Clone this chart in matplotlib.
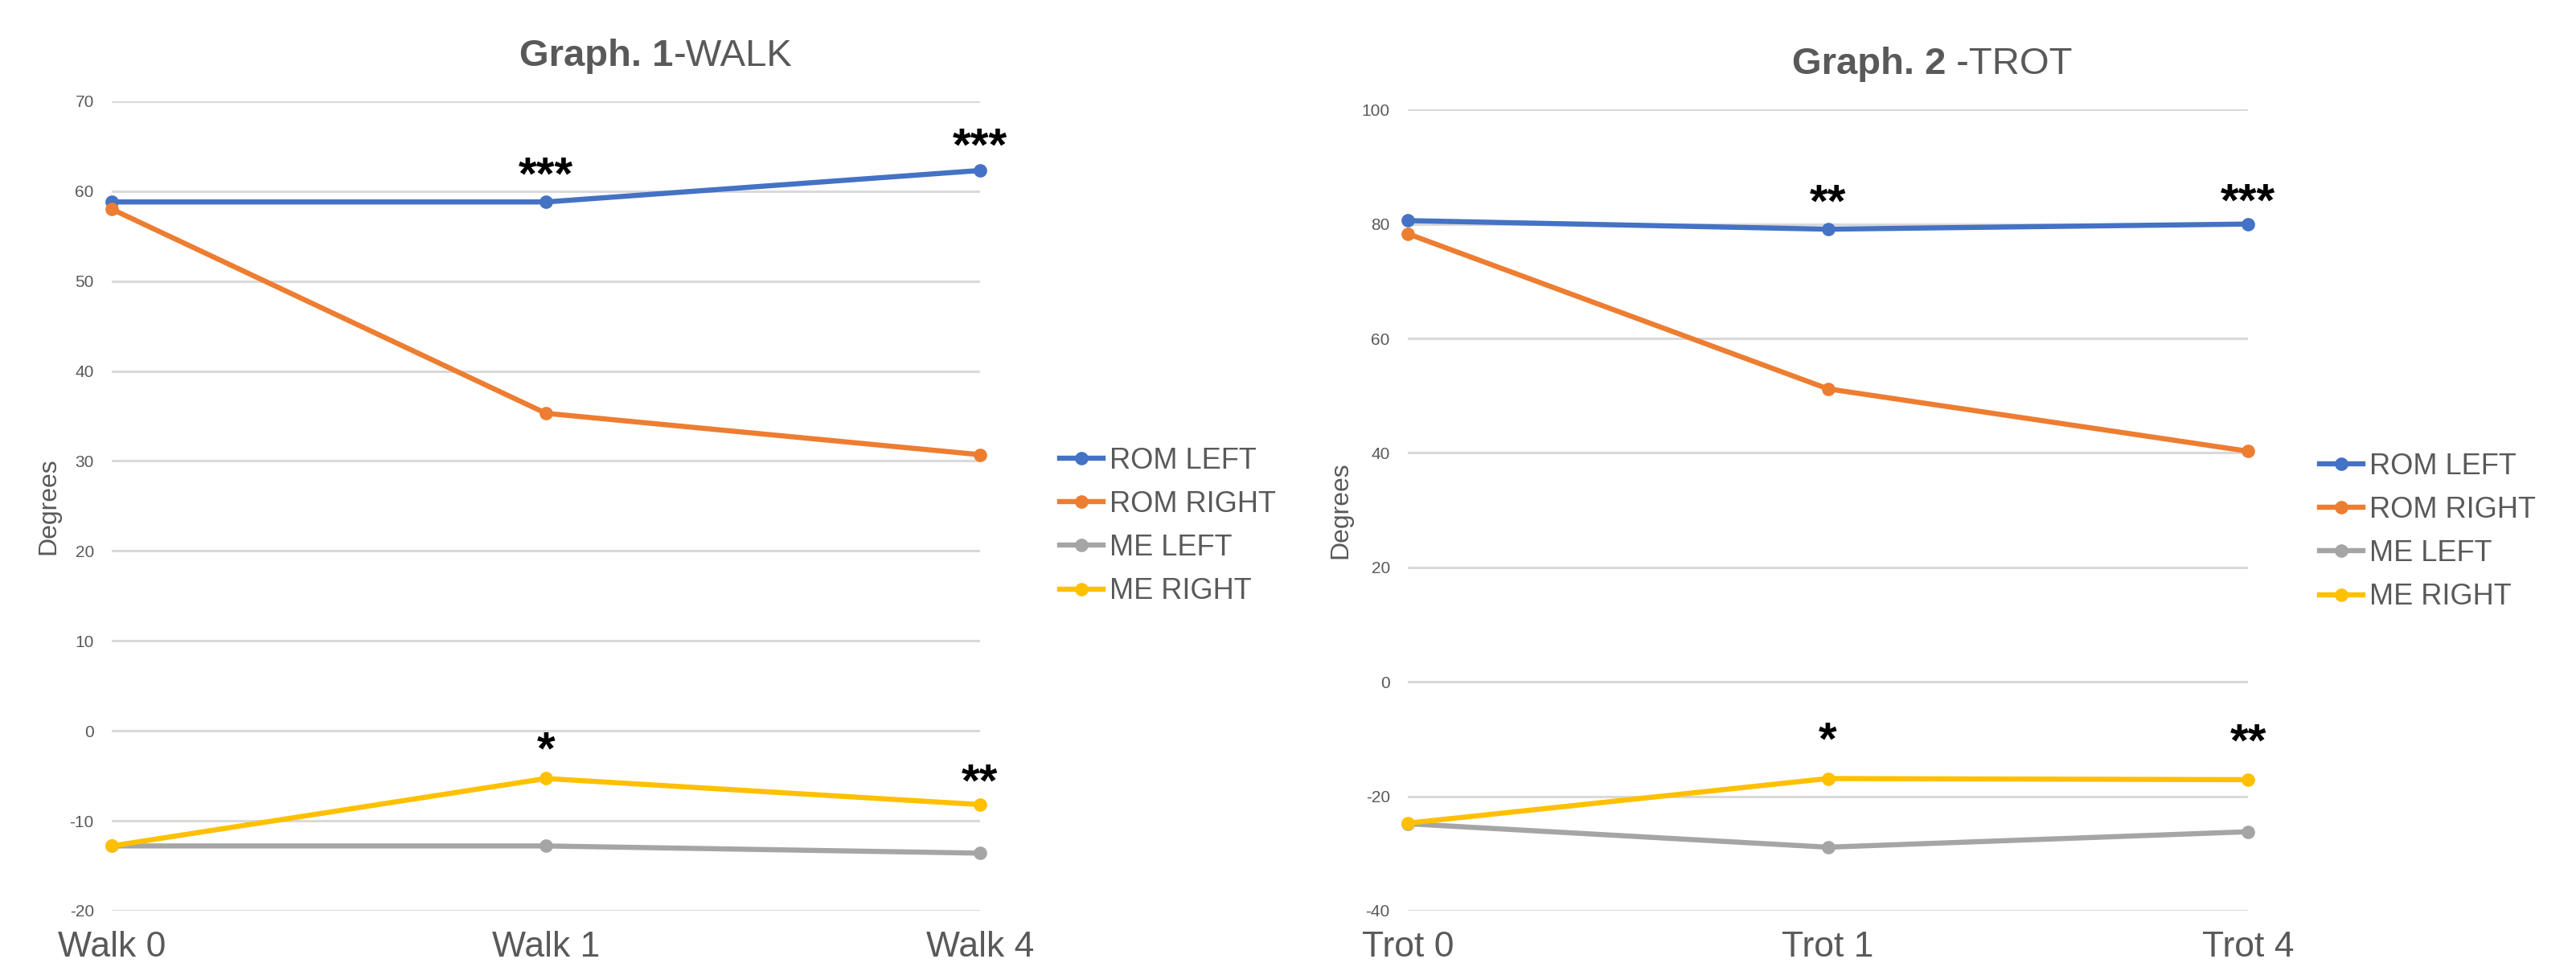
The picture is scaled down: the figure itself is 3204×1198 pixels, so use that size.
import numpy as np
import matplotlib.pyplot as plt

plt.rcParams['font.family'] = ['Liberation Sans', 'DejaVu Sans']
plt.rcParams['axes.unicode_minus'] = False

series = ["ROM LEFT", "ROM RIGHT", "ME LEFT", "ME RIGHT"]
colors = ["#4472C4", "#ED7D31", "#A5A5A5", "#FFC000"]

walk_labels = ["Walk 0", "Walk 1", "Walk 4"]
walk_rom_left = [58.8, 58.8, 62.3]
walk_rom_right = [58.0, 35.3, 30.7]
walk_me_left = [-12.8, -12.8, -13.6]
walk_me_right = [-12.8, -5.3, -8.2]

trot_labels = ["Trot 0", "Trot 1", "Trot 4"]
trot_rom_left = [80.6, 79.1, 80.0]
trot_rom_right = [78.3, 51.2, 40.3]
trot_me_left = [-24.8, -28.9, -26.2]
trot_me_right = [-24.7, -16.9, -17.1]

# significance stars: (series index, point index, text)
walk_marks = [(0, 1, "***"), (0, 2, "***"), (3, 1, "*"), (3, 2, "**")]
trot_marks = [(0, 1, "**"), (0, 2, "***"), (3, 1, "*"), (3, 2, "**")]
walk_mark_dy = [11, 10, 12, 9]
trot_mark_dy = [11, 9, 16, 16]

GREY = "#595959"
GRID = "#D9D9D9"


def panel(ax, labels, values, marks, mark_dy, ylim, ystep):
    x = np.arange(len(labels))
    for vals, name, c in zip(values, series, colors):
        ax.plot(x, vals, color=c, lw=2.3, marker="o", ms=5, label=name,
                clip_on=False, zorder=3)
    for (si, pi, txt), dy in zip(marks, mark_dy):
        ax.annotate(txt, (x[pi], values[si][pi]), xytext=(0, dy),
                    textcoords="offset points", ha="center", va="center",
                    fontsize=21, fontweight="bold", color="black", zorder=4)
    ax.set_xlim(0, len(labels) - 1)
    ax.set_ylim(*ylim)
    ax.set_yticks(np.arange(ylim[0], ylim[1] + 1, ystep))
    ax.set_xticks(x, labels)
    ax.grid(axis="y", color=GRID, lw=1.1)
    ax.set_axisbelow(True)
    for s in ax.spines.values():
        s.set_visible(False)
    ax.tick_params(axis="y", length=0, labelsize=7.5, labelcolor=GREY, pad=8)
    ax.tick_params(axis="x", length=0, labelsize=16, labelcolor=GREY, pad=9)
    ax.set_ylabel("Degrees", fontsize=11.5, color=GREY, labelpad=4)


fig = plt.figure(figsize=(16.02, 5.99), dpi=200)

ax1 = fig.add_axes([0.0434, 0.0543, 0.3371, 0.8406])
panel(ax1, walk_labels,
      [walk_rom_left, walk_rom_right, walk_me_left, walk_me_right],
      walk_marks, walk_mark_dy, (-20, 70), 10)

ax2 = fig.add_axes([0.5465, 0.0543, 0.3262, 0.8319])
panel(ax2, trot_labels,
      [trot_rom_left, trot_rom_right, trot_me_left, trot_me_right],
      trot_marks, trot_mark_dy, (-40, 100), 20)

# titles: bold lead-in followed by regular text
for x0, y0, lead, rest in [(0.2016, 0.9316, "Graph. 1", "-WALK"),
                           (0.6957, 0.9232, "Graph. 2", " -TROT")]:
    t = fig.text(x0, y0, lead, fontsize=17, fontweight="bold", color=GREY,
                 ha="left", va="baseline")
    ax1.annotate(rest, xy=(1, 0), xycoords=t, fontsize=17,
                 color=GREY, ha="left", va="bottom",
                 annotation_clip=False)

for ax, anchor in [(ax1, (0.4114, 0.4537)), (ax2, (0.9005, 0.4478))]:
    ax.legend(loc="center left", bbox_to_anchor=anchor,
              bbox_transform=fig.transFigure, frameon=False, fontsize=13,
              labelcolor=GREY, handlelength=1.5, handletextpad=0.2,
              labelspacing=0.53, borderpad=0, borderaxespad=0)

fig.savefig("out.png", dpi=200)
